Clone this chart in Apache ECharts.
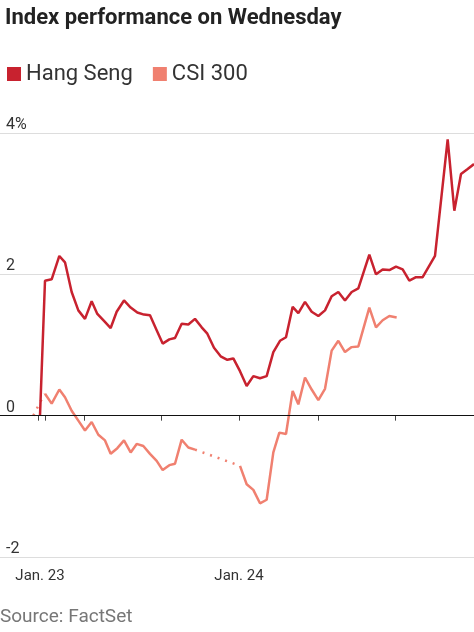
<!DOCTYPE html>
<html>
<head>
<meta charset="utf-8">
<script src="https://cdn.jsdelivr.net/npm/echarts@6/dist/echarts.min.js"></script>
<style>
html,body{margin:0;padding:0;background:#fff;}
#chart{width:474px;height:632px;}
</style>
</head>
<body>
<div id="chart"></div>
<script>
// x = position along the trading timeline, y = % change
var hsX = [120,135,155,178,195,215,235,255,275,292,312,332,350,372,392,412,432,450,470,488,508,525,545,565,585,605,622,642,662,682,700,720,740,760,780,800,820,840,858,878,895,915,935,955,975,995,1015,1035,1055,1075,1108,1128,1148,1168,1188,1208,1228,1248,1268,1305,1343,1363,1383,1403,1422];
var hsY = [0,1.91,1.93,2.26,2.17,1.75,1.49,1.37,1.62,1.44,1.34,1.24,1.47,1.63,1.53,1.46,1.43,1.42,1.21,1.02,1.08,1.10,1.30,1.29,1.37,1.25,1.16,0.96,0.84,0.79,0.81,0.63,0.42,0.56,0.53,0.56,0.90,1.06,1.11,1.54,1.45,1.61,1.47,1.41,1.49,1.69,1.75,1.63,1.75,1.80,2.28,2.00,2.07,2.06,2.11,2.07,1.91,1.96,1.96,2.26,3.91,2.90,3.42,3.49,3.56];

var csiX = [135,155,178,195,215,235,255,275,295,315,332,352,372,392,410,430,450,470,488,508,525,545,565,585,720,740,760,780,800,820,838,858,878,895,915,935,955,975,995,1015,1035,1055,1075,1108,1128,1148,1168,1190];
var csiY = [0.31,0.17,0.37,0.26,0.07,-0.07,-0.21,-0.09,-0.27,-0.35,-0.54,-0.46,-0.35,-0.52,-0.40,-0.43,-0.54,-0.64,-0.77,-0.70,-0.68,-0.34,-0.45,-0.48,-0.71,-0.97,-1.05,-1.24,-1.19,-0.52,-0.24,-0.26,0.35,0.16,0.54,0.37,0.22,0.38,0.92,1.06,0.90,0.97,0.98,1.53,1.25,1.35,1.41,1.39];
// dotted stretches where CSI 300 had no trading (open and lunch break)
var csiGapX = [100,120,135,null,585,720];
var csiGapY = [0,0.19,0.31,null,-0.48,-0.71];

var tickX = [115,135,253,485,717,955,1187];
var labelX = [120,717];
var labelText = {120:'Jan. 23',717:'Jan. 24'};

var HS = '#c8222f', CSI = '#f08070';

function pairs(xs, ys){
	var out = [];
	for (var i = 0; i < xs.length; i++) out.push(xs[i] === null ? null : [xs[i], ys[i]]);
	return out;
}
var csiMain = pairs(csiX, csiY);
csiMain.splice(24, 0, null);

var chart = echarts.init(document.getElementById('chart'));
chart.setOption({
	animation:false,
	textStyle:{fontFamily:'Roboto'},
	title:{
		text:'Index performance on Wednesday',
		left:0, top:2,
		textStyle:{fontSize:22, fontWeight:'bold', color:'#222', fontFamily:'Roboto'}
	},
	legend:{
		left:2, top:58, itemGap:20,
		icon:'rect', itemWidth:14, itemHeight:14,
		textStyle:{fontSize:22, color:'#333', fontFamily:'Roboto'},
		data:['Hang Seng','CSI 300']
	},
	graphic:[{
		type:'text', left:0, top:608,
		style:{text:'Source: FactSet', fontSize:19, fill:'#777', fontFamily:'Roboto'}
	}],
	grid:{left:0, right:0, top:133, bottom:75},
	xAxis:{
		type:'value', min:0, max:1422,
		axisLine:{show:true, lineStyle:{color:'#ddd'}},
		splitLine:{show:false},
		axisTick:{show:true, customValues:tickX, length:5, lineStyle:{color:'#444'}},
		axisLabel:{customValues:labelX, margin:12, fontSize:15, color:'#333',
			formatter:function(v){return labelText[v] || '';}}
	},
	yAxis:{
		type:'value', min:-2, max:4, interval:2,
		axisLine:{show:false}, axisTick:{show:false},
		splitLine:{lineStyle:{color:'#ddd'}},
		axisLabel:{inside:true, verticalAlign:'bottom', margin:6, fontSize:16, color:'#333',
			formatter:function(v){return v === 4 ? '4%' : String(v);}}
	},
	series:[
		{name:'Hang Seng', type:'line', data:pairs(hsX, hsY), showSymbol:false,
			itemStyle:{color:HS}, lineStyle:{color:HS, width:2.5}, z:3,
			markLine:{silent:true, symbol:'none', label:{show:false},
				lineStyle:{color:'#111', width:1.2, type:'solid'}, data:[{yAxis:0}]}},
		{name:'CSI 300', type:'line', data:csiMain, showSymbol:false, connectNulls:false,
			itemStyle:{color:CSI}, lineStyle:{color:CSI, width:2.5}, z:2},
		{name:'CSI 300', type:'line', data:pairs(csiGapX, csiGapY), showSymbol:false, connectNulls:false,
			itemStyle:{color:CSI}, lineStyle:{color:CSI, width:2.5, type:[2,6]}, z:2}
	]
});
</script>
</body>
</html>
